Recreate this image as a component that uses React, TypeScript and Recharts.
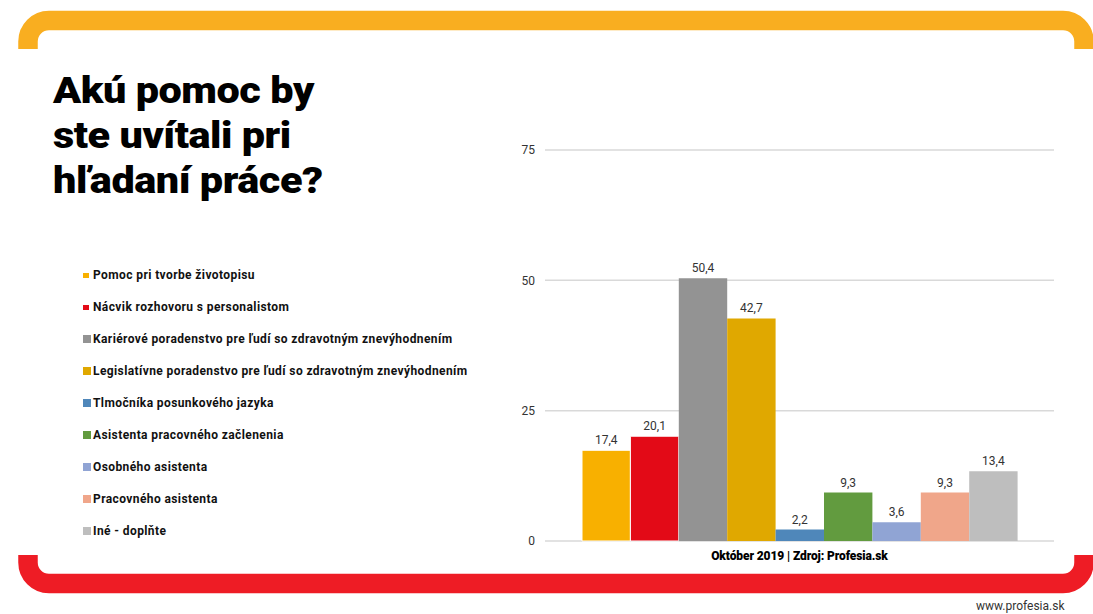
import { BarChart, Bar, XAxis, YAxis, CartesianGrid, LabelList } from "recharts";

const categories = ["Október 2019 | Zdroj: Profesia.sk"];
const seriesNames = [
  "Pomoc pri tvorbe životopisu",
  "Nácvik rozhovoru s personalistom",
  "Kariérové poradenstvo pre ľudí so zdravotným znevýhodnením",
  "Legislatívne poradenstvo pre ľudí so zdravotným znevýhodnením",
  "Tlmočníka posunkového jazyka",
  "Asistenta pracovného začlenenia",
  "Osobného asistenta",
  "Pracovného asistenta",
  "Iné - doplňte",
];
const seriesValues = [17.4, 20.1, 50.4, 42.7, 2.2, 9.3, 3.6, 9.3, 13.4];
const seriesColors = [
  "#f8b000",
  "#e30a17",
  "#939393",
  "#e0a800",
  "#4f87ba",
  "#629b3f",
  "#90a4d4",
  "#f0a68a",
  "#bebebe",
];
const yTicks = [0, 25, 50, 75];
const titleLines = ["Akú pomoc by", "ste uvítali pri", "hľadaní práce?"];

const data = categories.map((name) => {
  const row: Record<string, string | number> = { name };
  seriesValues.forEach((v, i) => (row[`s${i}`] = v));
  return row;
});

const fmt = (v: any) => String(v).replace(".", ",");

function LegendList() {
  return (
    <div style={{ position: "absolute", left: 83, top: 259 }}>
      {seriesNames.map((n, i) => (
        <div
          key={n}
          style={{
            display: "flex",
            alignItems: "center",
            height: 32,
            fontSize: 12,
            fontWeight: 700,
            letterSpacing: 0.4,
            color: "#111",
            whiteSpace: "nowrap",
          }}
        >
          <span
            style={{
              display: "inline-block",
              width: i < 2 ? 6 : 8,
              height: i < 2 ? 5 : 8,
              background: seriesColors[i],
              marginRight: i < 2 ? 4 : 2,
            }}
          />
          {n}
        </div>
      ))}
    </div>
  );
}

export default function App() {
  return (
    <div
      style={{
        position: "fixed",
        left: 0,
        top: 0,
        width: 1093,
        height: 614,
        overflow: "hidden",
        background: "#fff",
        fontFamily: "Roboto, sans-serif",
      }}
    >
      {/* frame */}
      <svg width={1093} height={614} style={{ position: "absolute", left: 0, top: 0 }}>
        <path
          d="M 28 49 L 28 41.5 A 21 21 0 0 1 49 20.5 L 1063 20.5 A 21 21 0 0 1 1084 41.5 L 1084 49"
          fill="none"
          stroke="#f9ae20"
          strokeWidth={19.5}
        />
        <path
          d="M 28 555 L 28 562.5 A 21 21 0 0 0 49 583.5 L 1063 583.5 A 21 21 0 0 0 1084 562.5 L 1084 555"
          fill="none"
          stroke="#ee1c25"
          strokeWidth={19.5}
        />
      </svg>

      <div
        style={{
          position: "absolute",
          left: 53,
          top: 69,
          fontSize: 36,
          lineHeight: "45px",
          fontWeight: 900,
          color: "#000",
          letterSpacing: -0.4,
          transform: "scaleX(1.15)",
          transformOrigin: "left top",
          whiteSpace: "nowrap",
        }}
      >
        {titleLines.map((t) => (
          <div key={t}>{t}</div>
        ))}
      </div>

      <LegendList />

      <div style={{ position: "absolute", left: 0, top: 0 }}>
        <BarChart
          width={1093}
          height={614}
          data={data}
          margin={{ top: 150, right: 39, bottom: 43, left: 515 }}
          barGap={0}
        >
          <CartesianGrid vertical={false} stroke="#d9d9d9" strokeWidth={1.5} />
          <YAxis
            domain={[0, 75]}
            ticks={yTicks}
            width={30}
            axisLine={false}
            tickLine={false}
            tickSize={0}
            tickMargin={10}
            tick={{ fontSize: 12, fill: "#333" }}
          />
          <XAxis
            dataKey="name"
            height={30}
            axisLine={false}
            tickLine={false}
            tickSize={0}
            tickMargin={10}
            tick={{ fontSize: 12, fill: "#000", fontWeight: 900, letterSpacing: -0.1 }}
          />
          {seriesNames.map((n, i) => (
            <Bar
              key={n}
              dataKey={`s${i}`}
              name={n}
              fill={seriesColors[i]}
              barSize={48.4}
              stroke={i < 2 ? "#fff" : undefined}
              strokeWidth={i < 2 ? 1 : 0}
              isAnimationActive={false}
            >
              <LabelList
                dataKey={`s${i}`}
                position="top"
                offset={6}
                formatter={fmt}
                style={{ fontSize: 12, fill: "#333" }}
              />
            </Bar>
          ))}
        </BarChart>
      </div>

      <div
        style={{
          position: "absolute",
          left: 976,
          top: 599,
          fontSize: 12,
          lineHeight: "14px",
          color: "#333",
        }}
      >
        www.profesia.sk
      </div>
    </div>
  );
}
